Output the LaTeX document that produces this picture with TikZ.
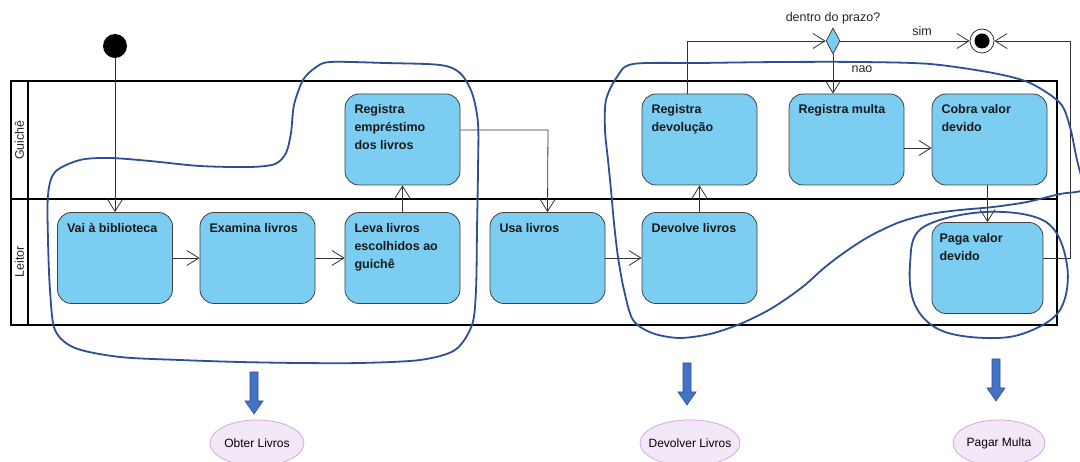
\documentclass[tikz,border=0pt]{standalone}
\usepackage{fontspec}
\setmainfont{Liberation Sans}
\usetikzlibrary{arrows.meta,shapes.geometric,calc}
\definecolor{boxblue}{HTML}{7BCDF2}
\definecolor{penblue}{HTML}{2F4F94}
\definecolor{arrblue}{HTML}{4472C4}
\definecolor{arredge}{HTML}{2F528F}
\definecolor{lav}{HTML}{F3E8F8}
\definecolor{lavedge}{HTML}{D4A6E4}
\definecolor{decblue}{HTML}{7BCDF2}
\newcommand{\acttext}[1]{\parbox[t][70pt][t]{96pt}{\raggedright #1}}
\begin{document}
\begin{tikzpicture}[x=1pt,y=-1pt,
  action/.style={rectangle, rounded corners=14pt, draw=black!75, line width=0.8pt, fill=boxblue,
    minimum width=115pt, minimum height=91pt, inner xsep=9.5pt, inner ysep=10.5pt,
    font=\fontsize{12.5}{18}\selectfont\bfseries, text=black!90},
  flow/.style={draw=black!80, line width=0.8pt, -{Straight Barb[length=12pt,width=15pt]}},
  lbl/.style={font=\fontsize{12.5}{14}\selectfont, text=black!85, inner sep=0pt},
  pen/.style={draw=penblue, line width=1.8pt, line join=round},
  usecase/.style={ellipse, draw=lavedge, line width=0.8pt, fill=lav, minimum height=46pt, inner ysep=0pt,
    inner xsep=-8pt, font=\fontsize{12}{13}\selectfont},
  blockarrow/.style={fill=arrblue, draw=arredge, line width=0.6pt}
]
\useasboundingbox (0,0) rectangle (1080,462);
\clip (0,0) rectangle (1080,462);
\fill[white] (0,0) rectangle (1080,462);

% swimlanes
\draw[line width=1.6pt] (11,81) rectangle (1057,325);
\draw[line width=1.4pt] (11,199) -- (1057,199);
\draw[line width=2.6pt] (28,81) -- (28,325);
\node[lbl, rotate=90] (laneG) at (19.5,140) {Guichê};
\node[lbl, rotate=90] (laneL) at (19.5,262) {Leitor};

% actions
\node[action] (vai) at (115,258) {\acttext{Vai à biblioteca}};
\node[action] (exa) at (257.5,258) {\acttext{Examina livros}};
\node[action] (leva) at (402.5,258) {\acttext{Leva livros\\escolhidos ao\\guichê}};
\node[action] (usa) at (547.5,258) {\acttext{Usa livros}};
\node[action] (dev) at (699.5,258) {\acttext{Devolve livros}};
\node[action] (regemp) at (402.5,139.5) {\acttext{Registra\\empréstimo\\dos livros}};
\node[action] (regdev) at (699.5,139.5) {\acttext{Registra\\devolução}};
\node[action] (regmul) at (846.5,139.5) {\acttext{Registra multa}};
\node[action] (cobra) at (989.5,139.5) {\acttext{Cobra valor\\devido}};
\node[action, minimum width=111pt, inner xsep=7.5pt, minimum height=90pt] (paga) at (987.5,268) {\acttext{Paga valor\\devido}};

% initial, decision, final
\node[circle, fill=black, minimum size=24pt, inner sep=0pt] (ini) at (115,46) {};
\node[diamond, draw=black!80, fill=decblue, line width=0.7pt, minimum width=14pt, minimum height=26pt, inner sep=0pt] (dec) at (833,41) {};
\node[circle, draw=black!80, fill=white, line width=0.8pt, minimum size=24pt, inner sep=0pt] (fin) at (982,41) {};
\node[circle, fill=black, minimum size=15pt, inner sep=0pt] (finin) at (fin) {};
\node[lbl] (qtxt) at (833,18) {dentro do prazo?};
\node[lbl] (simtxt) at (922,31) {sim};
\node[lbl] (naotxt) at (862,69) {nao};

% helper coordinates
\coordinate (up1) at (687,41);
\coordinate (rt1) at (1070,258);
\coordinate (rt2) at (1070,41);
\coordinate (ex1) at (548,130);

% flows
\draw[flow] (ini) -- (vai.north);
\draw[flow] (vai) -- (exa);
\draw[flow] (exa) -- (leva);
\draw[flow] (leva) -- (regemp);
\draw[flow] ($(regemp.east)+(0,-9.5)$) -- (ex1) -- (usa.north);
\draw[flow] (usa) -- (dev);
\draw[flow] (dev) -- (regdev);
\draw[flow] (regdev.north -| up1) -- (up1) -- (dec.west);
\draw[flow] (dec.east) -- (fin.west);
\draw[flow] (dec.south) -- (dec.south |- regmul.north);
\draw[flow] ($(regmul.east)+(0,8.5)$) -- ($(cobra.west)+(0,8.5)$);
\draw[flow] (paga.north |- cobra.south) -- (paga.north);
\draw[flow] ($(paga.east)+(0,-10)$) -- (rt1) -- (rt2) -- (fin.east);

% hand-drawn groupings
\draw[pen] plot[smooth cycle, tension=0.5] coordinates {
 (330,62) (385,63) (440,65) (460,73) (472,93) (478,123) (478,170) (477,230) (476,290) (472,325)
 (455,350) (420,360) (360,363) (300,363) (240,362) (180,360) (120,357) (75,348) (55,330) (50,290)
 (48,240) (48,195) (55,172) (80,160) (110,158) (150,161) (200,166) (250,167) (275,164) (286,153)
 (291,133) (294,105) (303,80) (315,68)};
\draw[pen] plot[smooth cycle, tension=0.5] coordinates {
 (633,64) (700,63) (780,62) (860,62) (930,64) (993,73) (1030,83) (1060,103) (1070,127) (1077,160)
 (1083,180) (1092,188) (1076,192) (1060,194) (1027,202) (993,207) (960,210) (930,214) (900,222)
 (870,236) (845,252) (824,268) (805,285) (786,299) (767,311) (740,324) (710,334) (679,338) (652,333)
 (633,320) (624,290) (618,257) (614,223) (611,190) (608,160) (605,130) (606,100) (617,77)};
\draw[pen] plot[smooth cycle, tension=0.6] coordinates {
 (985,212) (1046,222) (1067,265) (1060,310) (1025,333) (985,338) (940,330) (915,305) (910,265) (922,228)};

% block arrows
\draw[blockarrow] (250,372) -- (258,372) -- (258,401) -- (263,401) -- (254,414) -- (245,401) -- (250,401) -- cycle;
\draw[blockarrow] (683,363) -- (691,363) -- (691,392) -- (696,392) -- (687,405) -- (678,392) -- (683,392) -- cycle;
\draw[blockarrow] (992,359) -- (1000,359) -- (1000,388) -- (1005,388) -- (996,401) -- (987,388) -- (992,388) -- cycle;

% use cases
\node[usecase, minimum width=94pt] (uc1) at (257,443) {Obter Livros};
\node[usecase, minimum width=100pt] (uc2) at (690,443) {Devolver Livros};
\node[usecase, minimum width=92pt] (uc3) at (999,443) {Pagar Multa};
\end{tikzpicture}
\end{document}
